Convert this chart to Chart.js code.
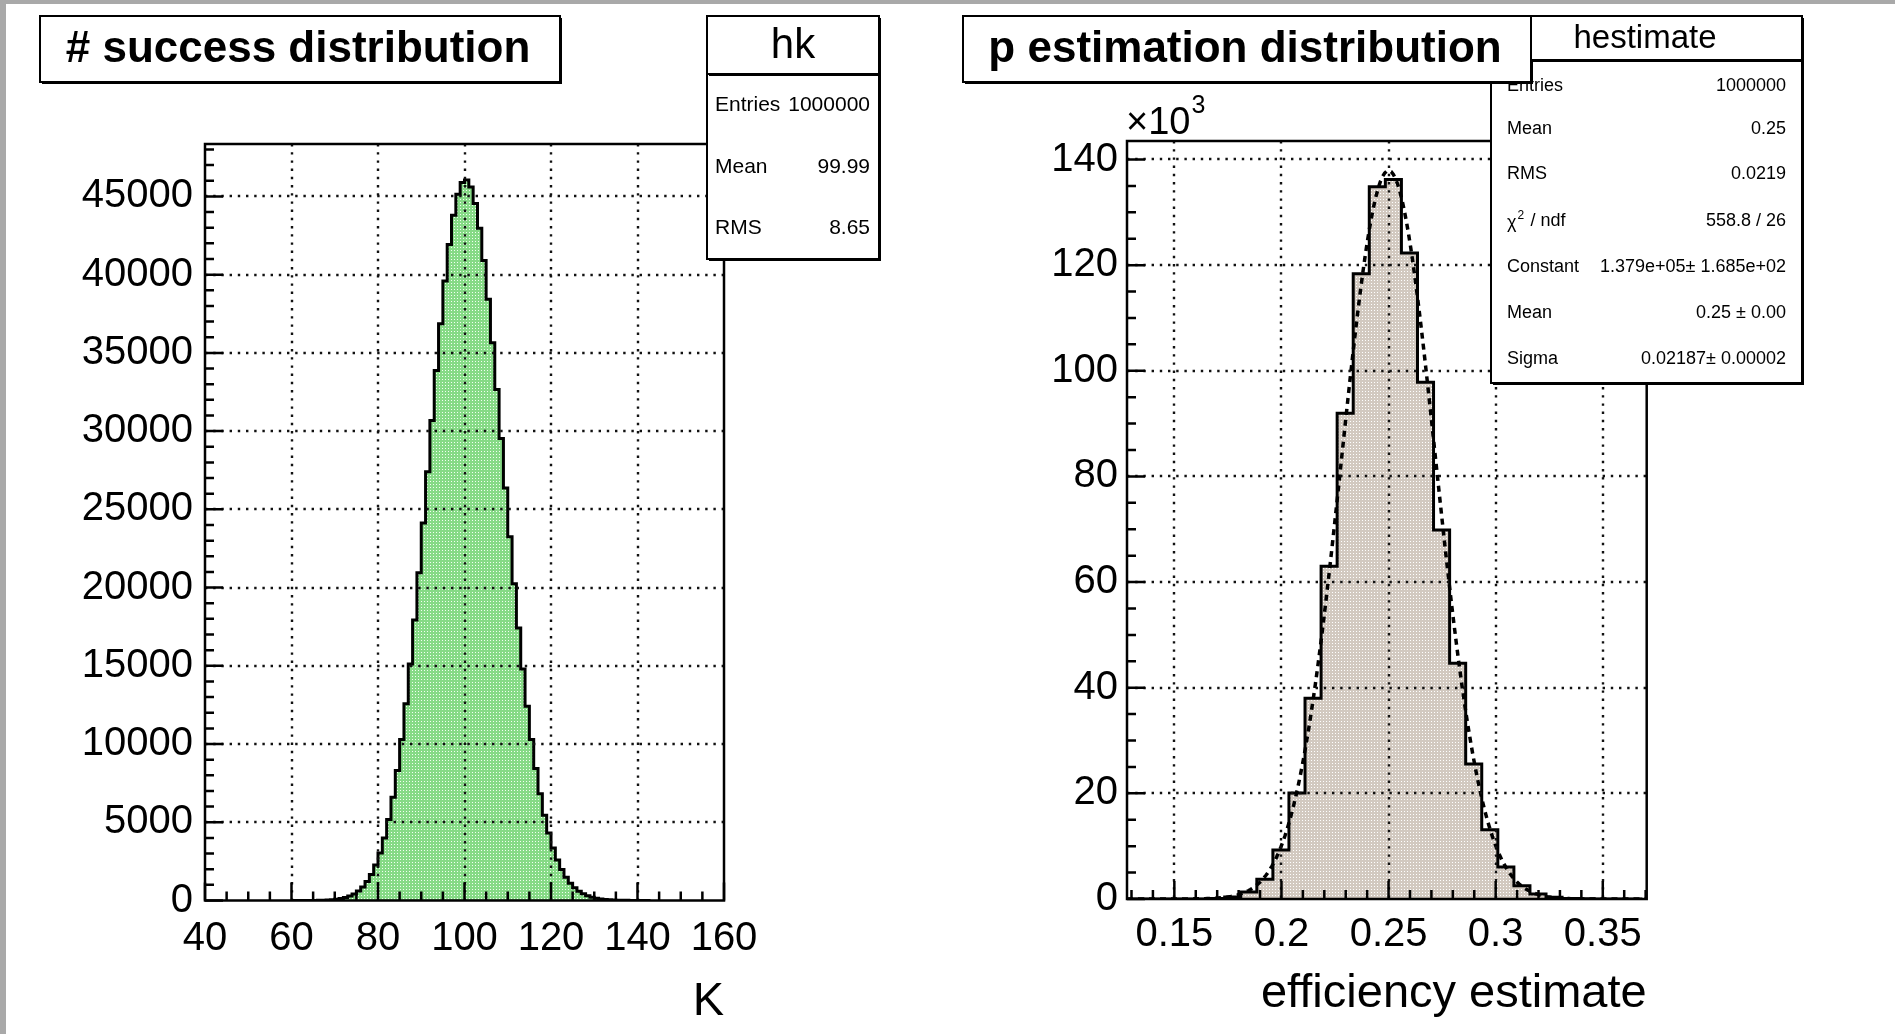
<!DOCTYPE html>
<html>
<head>
<meta charset="utf-8">
<script src="https://cdn.jsdelivr.net/npm/chart.js@4.4.0/dist/chart.umd.min.js"></script>
<style>
  html, body { margin: 0; padding: 0; width: 1895px; height: 1034px; overflow: hidden; background: #a9a9a9; }
  #page { position: absolute; left: 6px; top: 4px; right: 0; bottom: 0; background: #fff; }
  canvas { position: absolute; top: 0; }
  #c1 { left: 0; }
  #c2 { left: 947px; }
</style>
</head>
<body>
<div id="page"></div>
<canvas id="c1" width="947" height="1034"></canvas>
<canvas id="c2" width="948" height="1034"></canvas>
<script>
// hk: number of successes K, one bin per integer, first bin starts at 60
const kFirstBin = 60;
const kBinWidth = 1;
const kCounts = [
  0, 1, 1, 2, 4, 7, 12, 20, 32, 51,
  80, 124, 189, 283, 417, 604, 861, 1207, 1666, 2264,
  3028, 3988, 5171, 6604, 8308, 10295, 12569, 15121, 17928, 20950,
  24131, 27402, 30678, 33867, 36869, 39586, 41923, 43796, 45137, 45897,
  46050, 45594, 44551, 42965, 40899, 38432, 35652, 32653, 29529, 26368,
  23252, 20249, 17417, 14797, 12417, 10293, 8430, 6821, 5453, 4307,
  3362, 2593, 1977, 1489, 1109, 816, 594, 427, 304, 213,
  148, 102, 69, 46, 31, 20, 13, 8, 5, 3,
  2, 1, 0
];
const kTicks = [40, 60, 80, 100, 120, 140, 160];
const kCountTicks = [0, 5000, 10000, 15000, 20000, 25000, 30000, 35000, 40000, 45000];

// hestimate: p = K/n, bins of 0.0075
const pFirstBin = 0.1285;
const pBinWidth = 0.0075;
const pCounts = [
  0, 0, 0, 3, 23, 103, 393, 1304, 3734, 9280,
  20083, 37985, 63009, 91947, 118378, 134830, 136195, 122296, 97834, 69869,
  44631, 25544, 13122, 6059, 2519, 944, 319, 97, 26, 6,
  1, 0
];
const pTicks = [0.15, 0.2, 0.25, 0.3, 0.35];
const pCountTicks = [0, 20000, 40000, 60000, 80000, 100000, 120000, 140000];

// gaussian fit result
const fitConstant = 1.379e5;
const fitMean = 0.25;
const fitSigma = 0.02187;

const FONT = '"Liberation Sans", Arial, Helvetica, sans-serif';

function histPoints(first, width, counts) {
  const pts = [{ x: first, y: 0 }];
  counts.forEach((c, i) => pts.push({ x: first + i * width, y: c }));
  const end = first + counts.length * width;
  pts.push({ x: end, y: counts[counts.length - 1] });
  pts.push({ x: end, y: 0 });
  return pts;
}

function steps(from, to, step) {
  const out = [];
  const n = Math.round((to - from) / step);
  for (let i = 0; i <= n; i++) out.push(+(from + i * step).toFixed(6));
  return out;
}

function dotPattern(base, dot) {
  const c = document.createElement('canvas');
  c.width = 3; c.height = 3;
  const g = c.getContext('2d');
  g.fillStyle = base; g.fillRect(0, 0, 3, 3);
  g.fillStyle = dot; g.fillRect(1, 1, 1, 1);
  return g.createPattern(c, 'repeat');
}

function box(ctx, b) {
  const [x0, y0, x1, y1] = b;
  ctx.fillStyle = '#fff';
  ctx.fillRect(x0, y0, x1 - x0, y1 - y0);
  ctx.fillStyle = '#000';
  ctx.fillRect(x0 + 2, y1, x1 - x0, 2);
  ctx.fillRect(x1, y0 + 2, 2, y1 - y0);
  ctx.lineWidth = 2;
  ctx.strokeStyle = '#000';
  ctx.strokeRect(x0, y0, x1 - x0, y1 - y0);
}

// ROOT style pad: dotted grid, inner ticks, frame, title and stats boxes
const rootPad = {
  id: 'rootPad',
  afterDatasetsDraw(chart, args, o) {
    const { ctx, chartArea: a, scales: { x, y } } = chart;
    ctx.save();
    ctx.strokeStyle = '#111';
    ctx.lineWidth = 2.4;
    ctx.setLineDash([2.4, 5.8]);
    ctx.beginPath();
    o.xMajor.forEach(v => {
      const px = Math.round(x.getPixelForValue(v));
      if (px <= a.left + 1 || px >= a.right - 1) return;
      ctx.moveTo(px, a.top); ctx.lineTo(px, a.bottom);
    });
    o.yMajor.forEach(v => {
      const py = Math.round(y.getPixelForValue(v));
      if (py >= a.bottom - 1 || py <= a.top + 1) return;
      ctx.moveTo(a.left, py); ctx.lineTo(a.right, py);
    });
    ctx.stroke();
    ctx.setLineDash([]);

    ctx.strokeStyle = '#000';
    ctx.lineWidth = 2.5;
    ctx.beginPath();
    o.xMinor.forEach(v => {
      const px = x.getPixelForValue(v);
      if (px < a.left || px > a.right) return;
      const len = o.xMajor.some(m => Math.abs(m - v) < 1e-9) ? 18 : 9;
      ctx.moveTo(px, a.bottom); ctx.lineTo(px, a.bottom - len);
    });
    o.yMinor.forEach(v => {
      const py = y.getPixelForValue(v);
      if (py < a.top || py > a.bottom) return;
      const len = o.yMajor.some(m => Math.abs(m - v) < 1e-9) ? 18 : 9;
      ctx.moveTo(a.left, py); ctx.lineTo(a.left + len, py);
    });
    ctx.stroke();

    ctx.lineWidth = 2.5;
    ctx.strokeRect(a.left, a.top, a.right - a.left, a.bottom - a.top);
    ctx.restore();
  },
  afterDraw(chart, args, o) {
    const { ctx, chartArea: a } = chart;
    ctx.save();
    ctx.fillStyle = '#000';

    // axis title, right aligned to the frame
    ctx.font = `47px ${FONT}`;
    ctx.textAlign = 'right';
    ctx.textBaseline = 'alphabetic';
    ctx.fillText(o.xTitle, a.right, o.xTitleY);

    if (o.exponent) {
      ctx.textAlign = 'left';
      ctx.font = `38px ${FONT}`;
      ctx.fillText('\u00d710', a.left - 1, 134);
      const w = ctx.measureText('\u00d710').width;
      ctx.font = `25px ${FONT}`;
      ctx.fillText('3', a.left - 1 + w + 1, 113);
    }

    // stats body
    box(ctx, o.bodyBox);
    ctx.font = `${o.rowFont}px ${FONT}`;
    ctx.textBaseline = 'middle';
    o.rows.forEach((r, i) => {
      const yy = o.rowY[i];
      ctx.textAlign = 'left';
      if (r[0] === 'chi2') {
        ctx.fillText('\u03c7', o.rowLeft, yy + 2);
        const w = ctx.measureText('\u03c7').width;
        ctx.font = `${Math.round(o.rowFont * 0.65)}px ${FONT}`;
        ctx.fillText('2', o.rowLeft + w + 1, yy - 5);
        ctx.font = `${o.rowFont}px ${FONT}`;
        ctx.fillText(' / ndf', o.rowLeft + w + 9, yy);
      } else {
        ctx.fillText(r[0], o.rowLeft, yy);
      }
      ctx.textAlign = 'right';
      ctx.fillText(r[1], o.rowRight, yy);
    });

    // title
    box(ctx, o.titleBox);
    ctx.font = `bold 44px ${FONT}`;
    ctx.textAlign = 'center';
    ctx.fillText(o.title, (o.titleBox[0] + o.titleBox[2]) / 2 - 2, (o.titleBox[1] + o.titleBox[3]) / 2 + 1);

    // stats header
    box(ctx, o.headBox);
    ctx.font = `${o.headFont}px ${FONT}`;
    ctx.fillText(o.statName, o.headX, (o.headBox[1] + o.headBox[3]) / 2 + 1);
    ctx.restore();
  }
};

const tickFont = { family: FONT, size: 40 };

function padChart(id, cfg) {
  return new Chart(document.getElementById(id), {
    type: 'line',
    data: { datasets: cfg.datasets },
    options: {
      responsive: false,
      animation: false,
      events: [],
      layout: { padding: { top: cfg.frame.top, right: cfg.width - cfg.frame.right, left: 0, bottom: 0 } },
      plugins: { legend: { display: false }, tooltip: { enabled: false }, rootPad: cfg.pad },
      scales: {
        x: {
          type: 'linear', min: cfg.xMin, max: cfg.xMax,
          afterFit: s => { s.height = 1034 - cfg.frame.bottom; },
          afterBuildTicks: s => { s.ticks = cfg.xTicks.map(v => ({ value: v })); },
          grid: { display: false, drawTicks: false },
          border: { display: false },
          ticks: { font: tickFont, color: '#000', padding: cfg.xPad, maxRotation: 0, autoSkip: false,
                   callback: v => String(v) }
        },
        y: {
          type: 'linear', min: 0, max: cfg.yMax,
          afterFit: s => { s.width = cfg.frame.left; },
          afterBuildTicks: s => { s.ticks = cfg.yTicks.map(v => ({ value: v })); },
          grid: { display: false, drawTicks: false },
          border: { display: false },
          ticks: { font: tickFont, color: '#000', padding: cfg.yPad, autoSkip: false,
                   callback: cfg.yLabel }
        }
      }
    },
    plugins: [rootPad]
  });
}

padChart('c1', {
  width: 947,
  frame: { left: 205, right: 724, top: 144, bottom: 900.5 },
  xMin: 40, xMax: 160, yMax: 48350,
  xTicks: kTicks, yTicks: kCountTicks, xPad: 14, yPad: 12,
  yLabel: v => String(v),
  datasets: [{
    data: histPoints(kFirstBin, kBinWidth, kCounts),
    stepped: 'before', fill: 'origin',
    backgroundColor: dotPattern('#86da86', '#f2fff2'),
    borderColor: '#000', borderWidth: 3, pointRadius: 0, borderJoinStyle: 'miter'
  }],
  pad: {
    title: '# success distribution', titleBox: [40, 16, 560, 82],
    statName: 'hk', headBox: [707, 16, 879, 74], bodyBox: [707, 74, 879, 259], headFont: 42, headX: 793,
    rows: [['Entries', '1000000'], ['Mean', '99.99'], ['RMS', '8.65']],
    rowY: [105, 167, 228], rowFont: 21, rowLeft: 715, rowRight: 870,
    xTitle: 'K', xTitleY: 1015,
    xMajor: kTicks, xMinor: steps(40, 160, 5),
    yMajor: kCountTicks, yMinor: steps(0, 48000, 1000)
  }
});

const pMin = 0.1279, pMax = 0.3705;
const fitPoints = [];
for (let i = 0; i <= 240; i++) {
  const x = pMin + (pMax - pMin) * i / 240;
  fitPoints.push({ x, y: fitConstant * Math.exp(-0.5 * Math.pow((x - fitMean) / fitSigma, 2)) });
}

padChart('c2', {
  width: 948,
  frame: { left: 180, right: 699.7, top: 141, bottom: 899 },
  xMin: pMin, xMax: pMax, yMax: 143500,
  xTicks: pTicks, yTicks: pCountTicks, xPad: 12, yPad: 9,
  yLabel: v => String(v / 1000),
  datasets: [{
    data: fitPoints, order: 0,
    borderColor: '#000', borderWidth: 3.5, borderDash: [6, 5], pointRadius: 0, fill: false, tension: 0
  }, {
    data: histPoints(pFirstBin, pBinWidth, pCounts), order: 1,
    stepped: 'before', fill: 'origin',
    backgroundColor: dotPattern('#d2c9c0', '#ffffff'),
    borderColor: '#000', borderWidth: 3, pointRadius: 0, borderJoinStyle: 'miter'
  }],
  pad: {
    title: 'p estimation distribution', titleBox: [16, 16, 584, 82],
    statName: 'hestimate', headBox: [584, 16, 855, 60], bodyBox: [544, 60, 855, 383], headFont: 33, headX: 698,
    rows: [['Entries', '1000000'], ['Mean', '0.25'], ['RMS', '0.0219'], ['chi2', '558.8 / 26'],
           ['Constant', '1.379e+05\u00b1 1.685e+02'], ['Mean', '0.25 \u00b1 0.00'], ['Sigma', '0.02187\u00b1 0.00002']],
    rowY: [86, 129, 174, 221, 267, 313, 359], rowFont: 18, rowLeft: 560, rowRight: 839,
    xTitle: 'efficiency estimate', xTitleY: 1007,
    exponent: true,
    xMajor: pTicks, xMinor: steps(0.13, 0.37, 0.01),
    yMajor: pCountTicks, yMinor: steps(0, 140000, 5000)
  }
});
</script>
</body>
</html>
